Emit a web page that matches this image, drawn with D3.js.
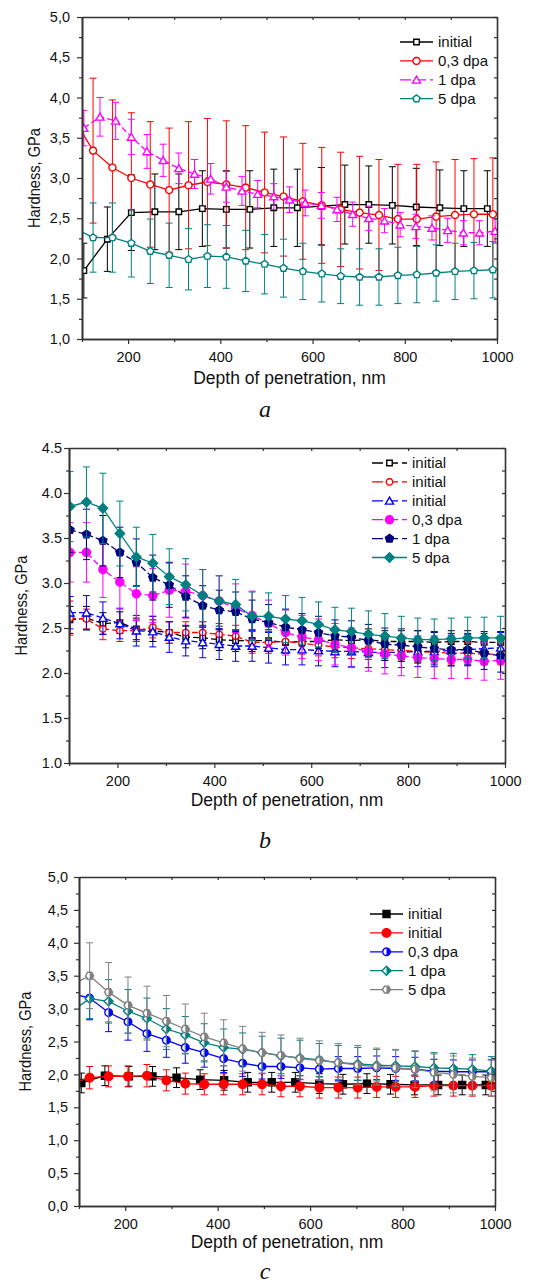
<!DOCTYPE html>
<html>
<head>
<meta charset="utf-8">
<script src="https://cdn.jsdelivr.net/npm/d3@7/dist/d3.min.js"></script>
<style>
  body { margin: 0; background: #fff; }
  svg { display: block; }
</style>
</head>
<body>
<svg id="chart" width="539" height="1286"></svg>
<script>
// Depth grids, nm
const depth51a = [104, 155, 207, 258, 310, 361, 413, 464, 516, 567, 619, 670, 722, 773, 825, 876, 928, 979]
const depth41a = [83, 124, 166, 207, 248, 289, 331, 372, 413, 455, 496, 537, 579, 620, 661, 702, 744, 785, 826, 868, 909, 950, 991]
const depth34a = [104, 139, 173, 207, 241, 276, 310, 344, 379, 413, 447, 481, 516, 550, 584, 619, 653, 687, 722, 756, 790, 824, 859, 893, 927, 962, 996]
const depth34b = [102, 136, 170, 205, 239, 273, 307, 341, 376, 410, 444, 478, 512, 547, 581, 615, 649, 683, 718, 752, 786, 820, 854, 889, 923, 957, 991]
const depth51c = [105, 156, 208, 259, 311, 362, 414, 465, 517, 568, 620, 671, 723, 774, 826, 877, 929, 980]
const depth41c = [82, 123, 164, 206, 247, 289, 330, 371, 413, 454, 496, 537, 578, 620, 661, 703, 744, 785, 827, 868, 910, 951, 992]

// Panel a
const hardA_initial = [1.85, 2.24, 2.57, 2.58, 2.58, 2.62, 2.61, 2.61, 2.63, 2.63, 2.65, 2.67, 2.67, 2.66, 2.64, 2.63, 2.62, 2.62]
const errA_initial = [0.34, 0.40, 0.47, 0.47, 0.47, 0.47, 0.48, 0.48, 0.48, 0.48, 0.48, 0.49, 0.48, 0.48, 0.48, 0.47, 0.47, 0.47]
const hardA_03 = [3.73, 3.34, 3.13, 3.00, 2.92, 2.85, 2.91, 2.95, 2.92, 2.88, 2.82, 2.77, 2.71, 2.66, 2.61, 2.57, 2.54, 2.49, 2.49, 2.52, 2.54, 2.55, 2.55]
const errA_03 = [0.90, 0.90, 0.84, 0.81, 0.78, 0.77, 0.79, 0.79, 0.79, 0.77, 0.75, 0.74, 0.72, 0.72, 0.71, 0.70, 0.69, 0.68, 0.68, 0.68, 0.69, 0.69, 0.70]
const hardA_1 = [3.62, 3.76, 3.71, 3.51, 3.33, 3.22, 3.12, 3.05, 2.99, 2.89, 2.84, 2.80, 2.77, 2.73, 2.69, 2.66, 2.61, 2.55, 2.50, 2.47, 2.42, 2.40, 2.38, 2.35, 2.32, 2.32, 2.34]
const errA_1 = [0.22, 0.24, 0.23, 0.22, 0.21, 0.20, 0.19, 0.18, 0.19, 0.19, 0.18, 0.17, 0.16, 0.16, 0.16, 0.16, 0.15, 0.15, 0.15, 0.15, 0.15, 0.15, 0.15, 0.15, 0.15, 0.15, 0.15]
const hardA_5 = [2.38, 2.26, 2.26, 2.19, 2.09, 2.04, 1.99, 2.03, 2.02, 1.97, 1.93, 1.88, 1.84, 1.81, 1.78, 1.77, 1.77, 1.79, 1.80, 1.82, 1.84, 1.85, 1.86]
const errA_5 = [0.43, 0.43, 0.43, 0.42, 0.40, 0.40, 0.38, 0.39, 0.39, 0.38, 0.37, 0.36, 0.35, 0.35, 0.34, 0.35, 0.35, 0.35, 0.35, 0.35, 0.35, 0.35, 0.35]

// Panel b
const hardB_init1 = [2.59, 2.61, 2.55, 2.56, 2.49, 2.47, 2.45, 2.40, 2.39, 2.37, 2.36, 2.36, 2.36, 2.34, 2.35, 2.35, 2.37, 2.36, 2.37, 2.35, 2.35, 2.35, 2.34, 2.35, 2.35, 2.34, 2.34]
const errB_init1 = [0.15, 0.13, 0.12, 0.12, 0.12, 0.12, 0.12, 0.12, 0.12, 0.12, 0.12, 0.12, 0.12, 0.12, 0.12, 0.12, 0.12, 0.12, 0.12, 0.12, 0.12, 0.12, 0.12, 0.12, 0.12, 0.12, 0.12]
const hardB_init2 = [2.61, 2.60, 2.49, 2.47, 2.47, 2.51, 2.45, 2.45, 2.45, 2.43, 2.41, 2.34, 2.34, 2.35, 2.33, 2.31, 2.29, 2.28, 2.27, 2.26, 2.25, 2.24, 2.23, 2.22, 2.22, 2.21, 2.21]
const errB_init2 = [0.19, 0.11, 0.12, 0.12, 0.12, 0.12, 0.12, 0.12, 0.12, 0.12, 0.12, 0.12, 0.12, 0.12, 0.12, 0.12, 0.12, 0.12, 0.12, 0.12, 0.12, 0.12, 0.12, 0.12, 0.12, 0.12, 0.12]
const hardB_init3 = [2.67, 2.67, 2.61, 2.55, 2.47, 2.46, 2.40, 2.36, 2.34, 2.32, 2.30, 2.30, 2.28, 2.26, 2.26, 2.25, 2.24, 2.24, 2.23, 2.23, 2.23, 2.24, 2.24, 2.25, 2.26, 2.27, 2.28]
const errB_init3 = [0.18, 0.19, 0.18, 0.17, 0.17, 0.17, 0.17, 0.17, 0.17, 0.17, 0.17, 0.17, 0.17, 0.17, 0.17, 0.17, 0.17, 0.17, 0.17, 0.17, 0.17, 0.17, 0.17, 0.17, 0.17, 0.17, 0.17]
const hardB_03 = [3.34, 3.34, 3.15, 3.01, 2.88, 2.86, 2.92, 2.91, 2.86, 2.80, 2.72, 2.64, 2.55, 2.45, 2.40, 2.37, 2.32, 2.28, 2.24, 2.21, 2.19, 2.17, 2.16, 2.15, 2.15, 2.13, 2.14]
const errB_03 = [0.33, 0.33, 0.31, 0.30, 0.30, 0.30, 0.30, 0.30, 0.29, 0.28, 0.27, 0.27, 0.26, 0.25, 0.24, 0.23, 0.23, 0.22, 0.22, 0.22, 0.22, 0.22, 0.22, 0.21, 0.21, 0.21, 0.21]
const hardB_1 = [3.59, 3.54, 3.47, 3.34, 3.23, 3.06, 2.98, 2.85, 2.75, 2.70, 2.68, 2.60, 2.56, 2.51, 2.48, 2.45, 2.41, 2.40, 2.36, 2.32, 2.31, 2.29, 2.27, 2.26, 2.26, 2.22, 2.19]
const errB_1 = [0.25, 0.28, 0.28, 0.28, 0.26, 0.25, 0.25, 0.23, 0.22, 0.22, 0.22, 0.21, 0.20, 0.20, 0.18, 0.18, 0.18, 0.18, 0.18, 0.18, 0.18, 0.18, 0.18, 0.18, 0.18, 0.18, 0.18]
const hardB_5 = [3.85, 3.90, 3.83, 3.55, 3.29, 3.22, 3.07, 2.98, 2.86, 2.80, 2.76, 2.63, 2.63, 2.60, 2.58, 2.54, 2.48, 2.46, 2.43, 2.41, 2.39, 2.37, 2.37, 2.38, 2.39, 2.39, 2.39]
const errB_5 = [0.39, 0.39, 0.39, 0.36, 0.33, 0.32, 0.31, 0.29, 0.29, 0.28, 0.28, 0.27, 0.26, 0.26, 0.26, 0.25, 0.25, 0.26, 0.26, 0.25, 0.24, 0.24, 0.23, 0.23, 0.23, 0.23, 0.24]

// Panel c
const hardC_init1 = [1.87, 1.98, 1.97, 1.97, 1.95, 1.92, 1.91, 1.88, 1.88, 1.88, 1.86, 1.85, 1.86, 1.85, 1.84, 1.84, 1.84, 1.84]
const errC_init1 = [0.15, 0.15, 0.15, 0.15, 0.15, 0.15, 0.15, 0.15, 0.15, 0.15, 0.15, 0.15, 0.15, 0.15, 0.15, 0.15, 0.15, 0.15]
const hardC_init2 = [1.86, 1.95, 1.97, 1.97, 1.98, 1.91, 1.86, 1.85, 1.85, 1.85, 1.85, 1.82, 1.82, 1.80, 1.80, 1.80, 1.81, 1.81, 1.81, 1.83, 1.83, 1.83, 1.83]
const errC_init2 = [0.17, 0.17, 0.16, 0.16, 0.17, 0.16, 0.16, 0.16, 0.16, 0.16, 0.16, 0.16, 0.16, 0.16, 0.16, 0.16, 0.16, 0.16, 0.16, 0.16, 0.16, 0.16, 0.16]
const hardC_03 = [3.23, 3.16, 2.94, 2.80, 2.62, 2.52, 2.41, 2.33, 2.24, 2.17, 2.12, 2.12, 2.10, 2.08, 2.09, 2.09, 2.10, 2.09, 2.08, 2.05, 2.04, 2.04, 2.04]
const errC_03 = [0.33, 0.33, 0.29, 0.28, 0.27, 0.26, 0.24, 0.22, 0.21, 0.20, 0.19, 0.18, 0.18, 0.18, 0.18, 0.18, 0.18, 0.18, 0.18, 0.18, 0.18, 0.18, 0.18]
const hardC_1 = [2.95, 3.15, 3.11, 2.96, 2.85, 2.69, 2.60, 2.48, 2.41, 2.38, 2.33, 2.28, 2.25, 2.22, 2.18, 2.16, 2.14, 2.13, 2.12, 2.10, 2.09, 2.08, 2.05]
const errC_1 = [0.30, 0.30, 0.33, 0.33, 0.31, 0.31, 0.28, 0.29, 0.28, 0.25, 0.25, 0.27, 0.27, 0.25, 0.26, 0.25, 0.24, 0.24, 0.23, 0.23, 0.23, 0.22, 0.22]
const hardC_5 = [3.35, 3.50, 3.25, 3.05, 2.93, 2.81, 2.69, 2.57, 2.48, 2.39, 2.33, 2.29, 2.24, 2.21, 2.18, 2.14, 2.12, 2.10, 2.08, 2.03, 2.00, 1.97, 1.95]
const errC_5 = [0.50, 0.50, 0.45, 0.43, 0.41, 0.39, 0.38, 0.36, 0.35, 0.34, 0.31, 0.31, 0.31, 0.30, 0.29, 0.30, 0.28, 0.28, 0.28, 0.28, 0.28, 0.28, 0.28]

const seriesA = [
  { name: 'initial', x: depth51a, y: hardA_initial, err: errA_initial, color: '#000000', shape: 'square', size: 5.5, fill: 'none', dash: null },
  { name: '0,3 dpa', x: depth41a, y: hardA_03, err: errA_03, color: '#ff0000', shape: 'circle', size: 7, fill: 'none', dash: null },
  { name: '1 dpa', x: depth34a, y: hardA_1, err: errA_1, color: '#ff00ff', shape: 'triangle', size: 8, fill: 'none', dash: '6,3' },
  { name: '5 dpa', x: depth41a, y: hardA_5, err: errA_5, color: '#008080', shape: 'pentagon', size: 7.5, fill: 'none', dash: null },
]
const seriesB = [
  { name: 'initial', x: depth34b, y: hardB_init1, err: errB_init1, color: '#000000', shape: 'square', size: 5.5, fill: 'none', dash: '6,3' },
  { name: 'initial', x: depth34b, y: hardB_init2, err: errB_init2, color: '#ff0000', shape: 'circle', size: 6.5, fill: 'none', dash: '6,3' },
  { name: 'initial', x: depth34b, y: hardB_init3, err: errB_init3, color: '#0000ff', shape: 'triangle', size: 8, fill: 'none', dash: '6,3' },
  { name: '0,3 dpa', x: depth34b, y: hardB_03, err: errB_03, color: '#ff00ff', shape: 'circle', size: 8, fill: 'full', dash: '6,3' },
  { name: '1 dpa', x: depth34b, y: hardB_1, err: errB_1, color: '#000080', shape: 'pentagon', size: 8.5, fill: 'full', dash: '6,3' },
  { name: '5 dpa', x: depth34b, y: hardB_5, err: errB_5, color: '#008080', shape: 'diamond', size: 9.5, fill: 'full', dash: null },
]
const seriesC = [
  { name: 'initial', x: depth51c, y: hardC_init1, err: errC_init1, color: '#000000', shape: 'square', size: 7, fill: 'full', dash: null },
  { name: 'initial', x: depth41c, y: hardC_init2, err: errC_init2, color: '#ff0000', shape: 'circle', size: 8.5, fill: 'full', dash: null },
  { name: '0,3 dpa', x: depth41c, y: hardC_03, err: errC_03, color: '#0000ff', shape: 'circle', size: 7.5, fill: 'half', dash: null },
  { name: '1 dpa', x: depth41c, y: hardC_1, err: errC_1, color: '#008080', shape: 'diamond', size: 9, fill: 'half', dash: null },
  { name: '5 dpa', x: depth41c, y: hardC_5, err: errC_5, color: '#808080', shape: 'hexagon', size: 8, fill: 'half', dash: null },
]

const panels = [
  { id: 'a', series: seriesA, yDomain: [1, 5], dec: ',', left: 82, right: 497, top: 17, bottom: 339,
    yPad: 7, yTitleX: 34, xTitleY: 384, letterY: 417, legend: { x: 400, y: 42, w: 33 } },
  { id: 'b', series: seriesB, yDomain: [1, 4.5], dec: '.', left: 69, right: 505, top: 448, bottom: 763,
    yPad: 2, yTitleX: 21, xTitleY: 806, letterY: 848, legend: { x: 372, y: 463, w: 35 } },
  { id: 'c', series: seriesC, yDomain: [0, 5], dec: ',', left: 79, right: 495, top: 877, bottom: 1206,
    yPad: 6, yTitleX: 25, xTitleY: 1248, letterY: 1279, legend: { x: 370, y: 914, w: 33 } },
]

const FONT = "'Liberation Sans', Arial, sans-serif"
const svg = d3.select('#chart')
const defs = svg.append('defs')

// marker outlines as point lists around (0,0)
const ring = (n, r, rot) => d3.range(n).map(i => {
  const a = rot + i * 2 * Math.PI / n
  return [r * Math.sin(a), -r * Math.cos(a)]
})
const shapePts = (shape, s) => {
  if (shape === 'square') return ring(4, s / Math.SQRT2, Math.PI / 4)
  if (shape === 'circle') return ring(28, s / 2, 0)
  if (shape === 'triangle') return ring(3, s * 0.58, 0).map(p => [p[0], p[1] + s * 0.12])
  if (shape === 'diamond') return ring(4, s / 2, 0)
  if (shape === 'pentagon') return ring(5, s / 2, 0)
  return ring(6, s / 2, Math.PI / 6)
}
// keep the right half of a polygon (x >= 0)
const rightHalf = pts => {
  const out = []
  pts.forEach((p, i) => {
    const q = pts[(i + 1) % pts.length]
    if (p[0] >= 0) out.push(p)
    if ((p[0] >= 0) !== (q[0] >= 0)) {
      const t = p[0] / (p[0] - q[0])
      out.push([0, p[1] + t * (q[1] - p[1])])
    }
  })
  return out
}
const toPath = pts => 'M' + pts.map(p => p.map(v => v.toFixed(2)).join(',')).join('L') + 'Z'

const drawMarker = (sel, s, cx, cy) => {
  const pts = shapePts(s.shape, s.size)
  const m = sel.append('g').attr('transform', `translate(${cx},${cy})`)
  m.append('path').attr('d', toPath(pts))
    .attr('fill', s.fill === 'full' ? s.color : '#fff')
    .attr('stroke', s.color).attr('stroke-width', 1.4)
  if (s.fill === 'half') {
    m.append('path').attr('d', toPath(rightHalf(pts))).attr('fill', s.color)
  }
}

panels.forEach(p => {
  const x = d3.scaleLinear().domain([100, 1000]).range([p.left, p.right])
  const y = d3.scaleLinear().domain(p.yDomain).range([p.bottom, p.top])
  const fmt = v => d3.format('.1f')(v).replace('.', p.dec)

  defs.append('clipPath').attr('id', `clip-${p.id}`)
    .append('rect')
    .attr('x', p.left).attr('y', p.top)
    .attr('width', p.right - p.left).attr('height', p.bottom - p.top)

  const g = svg.append('g')
  const plot = g.append('g').attr('clip-path', `url(#clip-${p.id})`)

  // Series: error bars, connecting line, markers
  p.series.forEach(s => {
    const pts = s.x.map((d, i) => ({ x: d, y: s.y[i], e: s.err[i] }))
    const eb = plot.append('g').attr('stroke', s.color).attr('stroke-width', 1)
    pts.forEach(d => {
      const px = x(d.x)
      const y1 = y(d.y + d.e)
      const y2 = y(d.y - d.e)
      eb.append('line').attr('x1', px).attr('x2', px).attr('y1', y1).attr('y2', y2)
      eb.append('line').attr('x1', px - 3.5).attr('x2', px + 3.5).attr('y1', y1).attr('y2', y1)
      eb.append('line').attr('x1', px - 3.5).attr('x2', px + 3.5).attr('y1', y2).attr('y2', y2)
    })
    plot.append('path')
      .datum(pts)
      .attr('d', d3.line().x(d => x(d.x)).y(d => y(d.y)))
      .attr('fill', 'none').attr('stroke', s.color).attr('stroke-width', 1.3)
      .attr('stroke-dasharray', s.dash)
    pts.forEach(d => drawMarker(plot, s, x(d.x), y(d.y)))
  })

  // Axes
  const yMajor = d3.range(p.yDomain[0], p.yDomain[1] + 0.01, 0.5)
  const yMinor = d3.range(p.yDomain[0] + 0.25, p.yDomain[1], 0.5)
  const xMajor = [200, 400, 600, 800, 1000]
  const xMinor = [100, 300, 500, 700, 900]

  const styleAxis = a => {
    a.select('.domain').attr('stroke', '#333').attr('stroke-width', 1.6)
    a.selectAll('.tick line').attr('stroke', '#333').attr('stroke-width', 1.2)
    a.selectAll('.tick text').attr('fill', '#111').attr('font-family', FONT).attr('font-size', 14.5)
  }

  g.append('g').attr('transform', `translate(0,${p.bottom})`)
    .call(d3.axisBottom(x).tickValues(xMinor).tickSize(3).tickFormat('').tickSizeOuter(0)).call(styleAxis)
  g.append('g').attr('transform', `translate(0,${p.bottom})`)
    .call(d3.axisBottom(x).tickValues(xMajor).tickSize(5).tickPadding(8).tickFormat(d3.format('d')).tickSizeOuter(0))
    .call(styleAxis)
  g.append('g').attr('transform', `translate(0,${p.top})`)
    .call(d3.axisTop(x).tickValues(xMajor.concat(xMinor)).tickSize(-3).tickFormat('').tickSizeOuter(0)).call(styleAxis)

  g.append('g').attr('transform', `translate(${p.left},0)`)
    .call(d3.axisLeft(y).tickValues(yMinor).tickSize(3).tickFormat('').tickSizeOuter(0)).call(styleAxis)
  g.append('g').attr('transform', `translate(${p.left},0)`)
    .call(d3.axisLeft(y).tickValues(yMajor).tickSize(5).tickPadding(p.yPad).tickFormat(fmt).tickSizeOuter(0))
    .call(styleAxis)
  g.append('g').attr('transform', `translate(${p.right},0)`)
    .call(d3.axisRight(y).tickValues(yMajor.concat(yMinor)).tickSize(-3).tickFormat('').tickSizeOuter(0)).call(styleAxis)

  // Axis titles and panel letter
  g.append('text')
    .attr('x', (p.left + p.right) / 2).attr('y', p.xTitleY)
    .attr('text-anchor', 'middle')
    .attr('font-family', FONT).attr('font-size', 17.5).attr('fill', '#111')
    .text('Depth of penetration, nm')

  g.append('text')
    .attr('transform', `translate(${p.yTitleX},${(p.top + p.bottom) / 2}) rotate(-90)`)
    .attr('text-anchor', 'middle').attr('dy', '0.35em')
    .attr('font-family', FONT).attr('font-size', 17).attr('fill', '#111')
    .attr('textLength', 100).attr('lengthAdjust', 'spacingAndGlyphs')
    .text('Hardness, GPa')

  g.append('text')
    .attr('x', 265).attr('y', p.letterY)
    .attr('text-anchor', 'middle')
    .attr('font-family', "'Liberation Serif', 'Times New Roman', serif")
    .attr('font-style', 'italic').attr('font-size', 24).attr('fill', '#111')
    .text(p.id)

  // Legend
  const lg = g.append('g')
  p.series.forEach((s, i) => {
    const ly = p.legend.y + i * 18.9
    lg.append('line')
      .attr('x1', p.legend.x).attr('x2', p.legend.x + p.legend.w)
      .attr('y1', ly).attr('y2', ly)
      .attr('stroke', s.color).attr('stroke-width', 1.3)
      .attr('stroke-dasharray', s.dash ? '11,4' : null)
    drawMarker(lg, s, p.legend.x + p.legend.w / 2, ly)
    lg.append('text')
      .attr('x', p.legend.x + p.legend.w + 5).attr('y', ly).attr('dy', '0.35em')
      .attr('font-family', FONT).attr('font-size', 15).attr('fill', '#111')
      .text(s.name)
  })
})
</script>
</body>
</html>
